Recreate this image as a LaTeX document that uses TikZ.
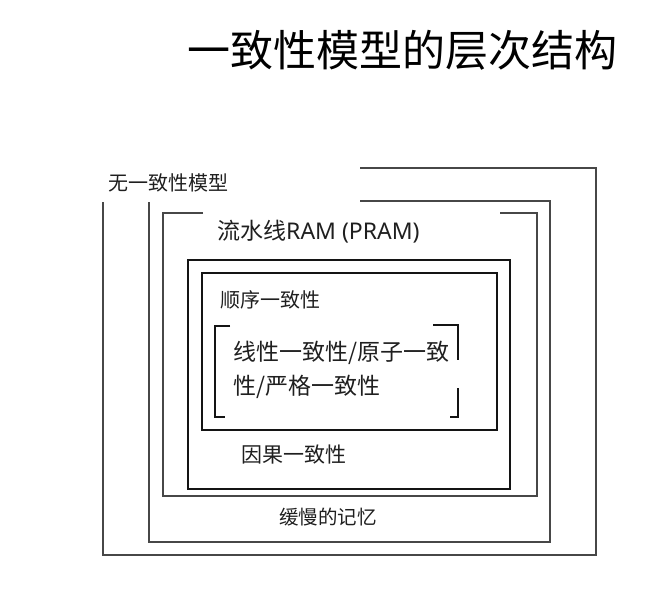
\documentclass[tikz,border=0pt]{standalone}
\usepackage{fontspec}
\setmainfont{Noto Sans CJK SC}
\newfontfamily\latfont{Noto Sans}
\begin{document}
\begin{tikzpicture}[x=1pt,y=-1pt,
  boxline/.style={draw=black!72,line width=1.3pt},
  innerline/.style={draw=black!92,line width=1.3pt},
  lbl/.style={inner sep=0pt,anchor=west,text=black!88},
]
\useasboundingbox (0,0) rectangle (666,593);
% title
\node[inner sep=0pt,text=black,font=\fontsize{43}{50}\selectfont] (title) at (402,50) {一致性模型的层次结构};
% outer box: no consistency
\draw[boxline] (360,168) -- (596,168) -- (596,555) -- (103,555) -- (103,202);
\node[lbl,font=\fontsize{20}{24}\selectfont] (none) at (108,183) {无一致性模型};
% slow memory box
\draw[boxline] (360,201) -- (550,201) -- (550,542) -- (149,542) -- (149,202);
\node[lbl,font=\fontsize{19.5}{24}\selectfont] (slow) at (279,517) {缓慢的记忆};
% PRAM box
\draw[boxline] (203,213) -- (163,213) -- (163,496) -- (537,496) -- (537,213) -- (500,213);
\node[lbl,font=\fontsize{23}{26}\selectfont] (pram) at (217,232) {流水线{\latfont RAM (PRAM)}};
% causal box
\draw[innerline] (188,260) rectangle (510,489);
\node[lbl,font=\fontsize{21}{26}\selectfont] (causal) at (241,455) {因果一致性};
% sequential box
\draw[innerline] (202,273) rectangle (497,430);
\node[lbl,font=\fontsize{20}{24}\selectfont] (seq) at (220,300) {顺序一致性};
% brackets
\draw[innerline,line width=1.1pt] (230,326) -- (215,326) -- (215,417) -- (225,417);
\draw[innerline,line width=1.1pt] (433,325) -- (458,325) -- (458,360);
\draw[innerline,line width=1.1pt] (458,388) -- (458,417) -- (450,417);
\node[lbl,align=left,font=\fontsize{23}{34}\selectfont] (lin) at (233,370) {线性一致性/原子一致\\性/严格一致性};
\end{tikzpicture}
\end{document}
